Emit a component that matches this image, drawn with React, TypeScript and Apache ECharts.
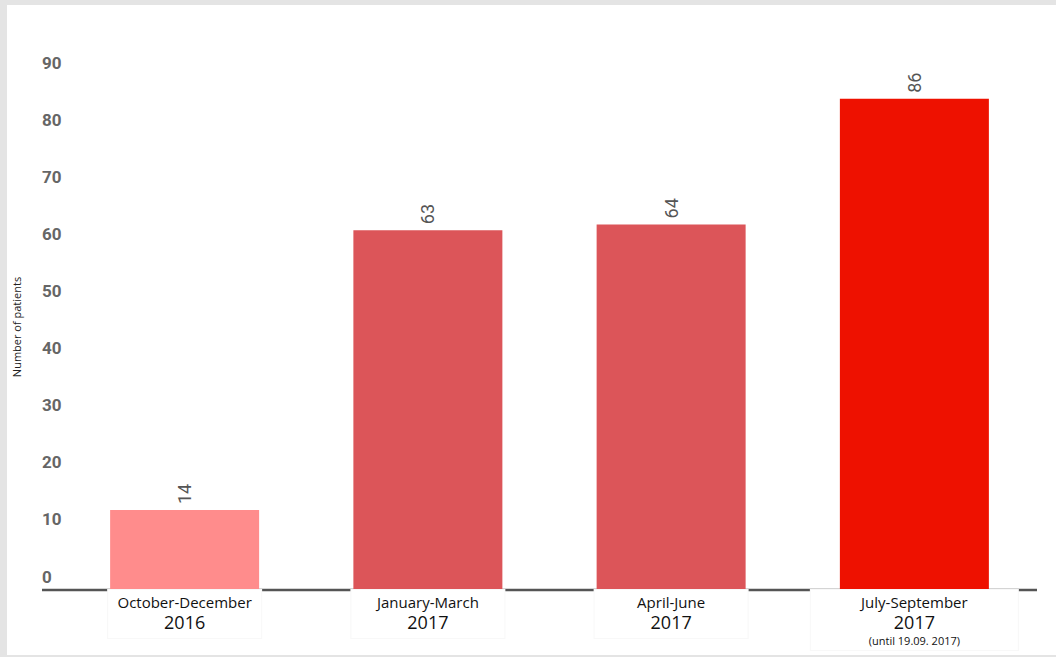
import React, { useEffect, useRef } from "react";
import * as echarts from "echarts";

const periods = ["October-December", "January-March", "April-June", "July-September"];
const years = ["2016", "2017", "2017", "2017"];
const notes = ["", "", "", "(until 19.09. 2017)"];
const patients = [14, 63, 64, 86];
const barColors = ["#ff8c8c", "#dc5559", "#dc5559", "#ee1100"];
const yTicks = [0, 10, 20, 30, 40, 50, 60, 70, 80, 90];

export default function App() {
  const ref = useRef<HTMLDivElement>(null);
  useEffect(() => {
    if (!ref.current) return;
    const chart = echarts.init(ref.current, null, { renderer: "svg" });
    const catData = periods.map((p, i) => ({
      value: p,
      textStyle: {
        width: notes[i] ? 207 : 153,
        padding: [2, 0, notes[i] ? 2 : 6, 0],
      },
    }));
    chart.setOption({
      animation: false,
      backgroundColor: "#ffffff",
      grid: { left: 56, top: 71, width: 973, height: 514, containLabel: false, outerBoundsMode: "none" },
      graphic: [
        {
          type: "line",
          z: 0,
          shape: { x1: 35, y1: 585, x2: 1030, y2: 585 },
          style: { stroke: "#555555", lineWidth: 2.5 },
        },
      ],
      xAxis: {
        type: "category",
        data: catData,
        z: 10,
        axisLine: { show: false },
        axisTick: { show: false },
        axisLabel: {
          margin: 0,
          interval: 0,
          backgroundColor: "#ffffff",
          borderColor: "#f8f8f8",
          borderWidth: 1,
          align: "center",
          formatter: (val: string) => {
            const i = periods.indexOf(val);
            let s = `{a|${val}}\n{b|${years[i]}}`;
            if (notes[i]) s += `\n{c|${notes[i]}}`;
            return s;
          },
          rich: {
            a: { fontFamily: "Open Sans", fontSize: 15, lineHeight: 20, color: "#111111", align: "center" },
            b: { fontFamily: "Open Sans", fontSize: 18, lineHeight: 20, color: "#111111", align: "center" },
            c: { fontFamily: "Open Sans", fontSize: 11, lineHeight: 16, color: "#111111", align: "center" },
          },
        },
      },
      yAxis: {
        type: "value",
        min: 0,
        max: 90,
        interval: 10,
        name: "Number of patients",
        nameLocation: "middle",
        nameGap: 41,
        nameTextStyle: { fontFamily: "Open Sans", fontSize: 11, color: "#222222", padding: [0, 0, 0, 12] },
        axisLine: { show: false },
        axisTick: { show: false },
        splitLine: { show: false },
        axisLabel: {
          margin: 21,
          align: "left",
          verticalAlign: "bottom",
          lineHeight: 27,
          fontFamily: "Roboto",
          fontSize: 17,
          fontWeight: "bold",
          color: "#666666",
          formatter: (v: number) => (yTicks.includes(v) ? String(v) : ""),
        },
      },
      series: [
        {
          type: "bar",
          barWidth: 149,
          data: patients.map((v, i) => ({ value: v, itemStyle: { color: barColors[i] } })),
          label: {
            show: true,
            position: "top",
            distance: 6,
            rotate: 90,
            align: "left",
            verticalAlign: "middle",
            fontFamily: "Roboto",
            fontSize: 18,
            color: "#555555",
          },
        },
      ],
    });
    return () => chart.dispose();
  }, []);
  return (
    <div style={{ position: "fixed", left: 0, top: 0, width: 1056, height: 657, background: "#e4e4e4" }}>
      <div ref={ref} style={{ position: "absolute", left: 7, top: 5, width: 1049, height: 650, background: "#ffffff" }} />
    </div>
  );
}
